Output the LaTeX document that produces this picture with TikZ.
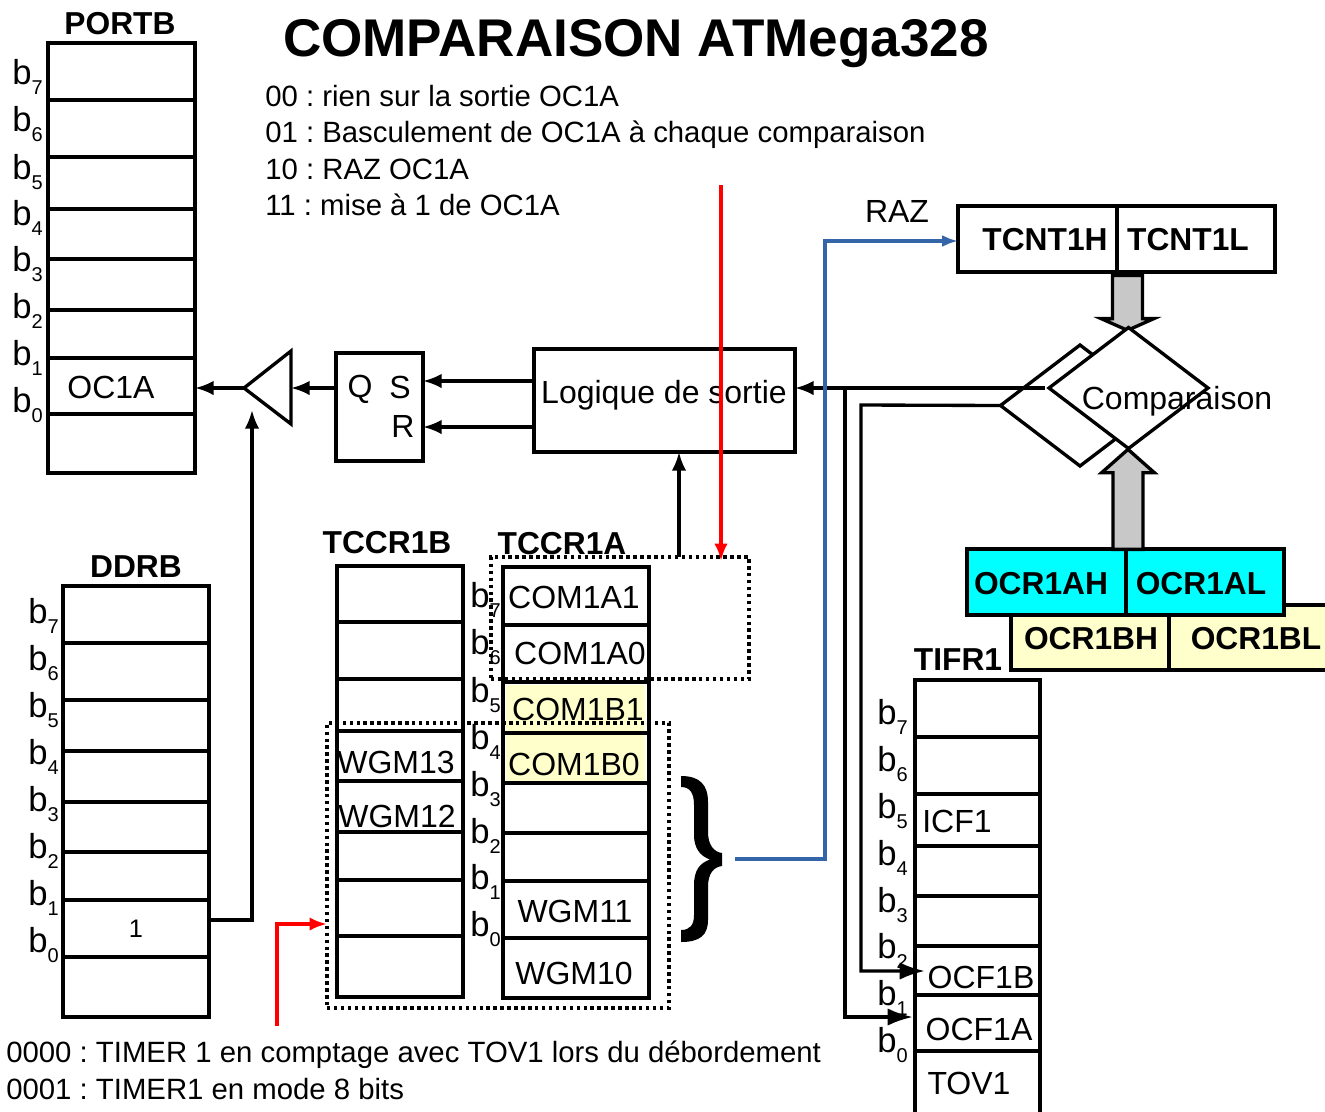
\documentclass[tikz,border=0pt]{standalone}
\usepackage{fontspec}
\setmainfont{Liberation Sans}
\usetikzlibrary{arrows.meta,positioning,shapes.geometric,shapes.arrows,fit}
\definecolor{Cyan}{HTML}{00FFFF}
\definecolor{Pale}{HTML}{FFFFCC}
\definecolor{Link}{HTML}{3465A8}
\definecolor{Bus}{HTML}{C8C8C8}
\newcommand{\bitname}[1]{b\raisebox{-0.3em}{\fontsize{15}{15}\selectfont #1}}
\frenchspacing

\begin{document}
\begin{tikzpicture}[
    x=0.75pt,y=-0.75pt,
    reg/.style={draw,line width=2.5pt,inner sep=0pt,outer sep=0pt,fit={#1}},
    rowline/.style={line width=2.5pt},
    txt/.style={font=\fontsize{24}{27}\selectfont,inner sep=0pt},
    msg/.style={font=\fontsize{22}{27}\selectfont,inner sep=0pt,anchor=base west},
    regtitle/.style={font=\fontsize{23.8}{27}\bfseries\selectfont,inner sep=0pt},
    bit/.style={font=\fontsize{26}{27}\selectfont,inner sep=0pt,anchor=west},
    spot/.style={draw=black,line width=2.6pt,dash pattern=on 2.6pt off 2.6pt,inner sep=0pt,outer sep=0pt,fit={#1}},
    arr/.style={-{Latex[length=14pt,width=11pt]},line width=2.5pt},
    arrlong/.style={-{Latex[length=19pt,width=13pt]},line width=2.5pt},
    arrred/.style={-{Latex[length=13pt,width=10pt]},line width=2.8pt,red},
    arrblue/.style={-{Latex[length=12pt,width=9pt]},line width=2.6pt,Link},
    test/.style={diamond,draw,fill=white,line width=2.5pt,inner sep=0pt,outer sep=0pt,minimum width=119.25pt,minimum height=90.75pt},
    bus/.style={single arrow,draw,fill=Bus,line width=2.5pt,inner ysep=10pt,inner xsep=0pt,outer sep=0pt,single arrow head extend=8.5pt,rotate=#1}
  ]
    \useasboundingbox (0,0) rectangle (1325,1111);

    \node[font=\fontsize{39.8}{44}\bfseries\selectfont,inner sep=0pt] (title) at (636,44) {COMPARAISON ATMega328};
    \node[msg] (ma) at (265,106) {00 : rien sur la sortie OC1A};
    \node[msg] (mb) at (265,142) {01 : Basculement de OC1A à chaque comparaison};
    \node[msg] (mc) at (265,179) {10 : RAZ OC1A};
    \node[msg] (md) at (265,215) {11 : mise à 1 de OC1A};
    \node[msg] (wa) at (6,1062) {0000 : TIMER 1 en comptage avec TOV1 lors du débordement};
    \node[msg] (wb) at (6,1099) {0001 : TIMER1 en mode 8 bits};

    \node[reg={(48,43) (195,473)}] (portb) {};
    \node[regtitle] (portbname) at (120,24) {PORTB};
    \foreach \y in {100,157,209,259,310,358,414}
      \draw[rowline] (portb.west |- 0,\y) -- (portb.east |- 0,\y);
    \foreach \i/\y in {7/77,6/124,5/172,4/218,3/264,2/311,1/358,0/405}
      \node[bit] (pb\i) at (12,\y) {\bitname{\i}};
    \node[txt] (ocpin) at (111,387) {OC1A};

    \node[reg={(63,586) (209,1017)}] (ddrb) {};
    \node[regtitle] (ddrbname) at (136,567) {DDRB};
    \foreach \y in {643,700,751,802,852,900,957}
      \draw[rowline] (ddrb.west |- 0,\y) -- (ddrb.east |- 0,\y);
    \foreach \i/\y in {7/616,6/663,5/710,4/757,3/804,2/851,1/898,0/945}
      \node[bit] (db\i) at (28,\y) {\bitname{\i}};
    \node[font=\fontsize{19}{21}\selectfont,inner sep=0pt] (ddone) at (136,929) {1};

    \fill[Pale] (506,685) rectangle (645,732);
    \fill[Pale] (506,735) rectangle (645,782);
    \node[reg={(337,566) (463,997)}] (tccrb) {};
    \node[regtitle] (tccrbname) at (387,543) {TCCR1B};
    \foreach \y in {622,679,731,781,832,880,936}
      \draw[rowline] (tccrb.west |- 0,\y) -- (tccrb.east |- 0,\y);
    \node[txt] (wgmc) at (396,762) {WGM13};
    \node[txt] (wgmb) at (397,816) {WGM12};

    \node[reg={(503,567) (649,998)}] (tccra) {};
    \node[regtitle] (tccraname) at (562,544) {TCCR1A};
    \foreach \y in {625,682,733,783,833,881,938}
      \draw[rowline] (tccra.west |- 0,\y) -- (tccra.east |- 0,\y);
    \foreach \i/\y in {7/600,6/647,5/695,4/742,3/789,2/836,1/882,0/929}
      \node[bit] (ab\i) at (470,\y) {\bitname{\i}};
    \node[txt] (coma) at (574,597) {COM1A1};
    \node[txt] (comb) at (580,653) {COM1A0};
    \node[txt] (comc) at (578,709) {COM1B1};
    \node[txt] (comd) at (574,764) {COM1B0};
    \node[txt] (wgmab) at (575,911) {WGM11};
    \node[txt] (wgmaa) at (574,973) {WGM10};

    \node[spot={(491,557) (749,679)}] (spota) {};
    \node[spot={(327,723) (669,1008)}] (spotb) {};

    \node[reg={(915,680) (1040,1118)}] (tifr) {};
    \node[regtitle] (tifrname) at (958,660) {TIFR1};
    \foreach \y in {737,794,846,896,946,995,1051}
      \draw[rowline] (tifr.west |- 0,\y) -- (tifr.east |- 0,\y);
    \foreach \i/\y in {7/717,6/764,5/811,4/858,3/905,2/951,1/998,0/1045}
      \node[bit] (tb\i) at (877,\y) {\bitname{\i}};
    \node[txt] (icf) at (957,821) {ICF1};
    \node[txt] (ocfb) at (981,977) {OCF1B};
    \node[txt] (ocfa) at (979,1029) {OCF1A};
    \node[txt] (tov) at (969,1083) {TOV1};

    \node[reg={(534,349) (795,452)}] (logic) {};
    \node[txt] (logictxt) at (664,395) {Logique de sortie};
    \node[reg={(336,353) (423,461)}] (rs) {};
    \node[txt] (rsq) at (360,389) {Q};
    \node[txt] (rss) at (400,387) {S};
    \node[txt] (rsr) at (403,426) {R};
    \draw[rowline,miter limit=10] (244,388) coordinate (bufout) -- (291,351) -- (291,424) -- cycle;
    \coordinate (bufin) at (291,388);
    \coordinate (bufen) at (252,410);

    \node[reg={(958,206) (1275,272)}] (tcnt) {};
    \draw[rowline] (1117,206) -- (1117,272);
    \node[regtitle] (tcnth) at (1045,240) {TCNT1H};
    \node[regtitle] (tcntl) at (1188,240) {TCNT1L};
    \node[txt] (raz) at (897,211) {RAZ};

    \node[reg={(1011,605) (1330,670)},fill=Pale] (ocrb) {};
    \draw[rowline] (1169,605) -- (1169,670);
    \node[regtitle] (ocrbh) at (1091,639) {OCR1BH};
    \node[regtitle] (ocrbl) at (1256,639) {OCR1BL};
    \node[reg={(967,549) (1284,615)},fill=Cyan] (ocra) {};
    \draw[rowline] (1126,549) -- (1126,615);
    \node[regtitle] (ocrah) at (1041,584) {OCR1AH};
    \node[regtitle] (ocral) at (1201,584) {OCR1AL};

    \node[test] (cmpback) at (1080,405.5) {};
    \node[bus=-90,minimum height=41.25pt,single arrow tip angle=132] (busa) at (1127.5,299.5) {};
    \node[bus=90,minimum height=75pt,single arrow tip angle=97] (busb) at (1128,506) {};
    \node[test] (cmp) at (1128.5,388) {};
    \node[txt] (cmptxt) at (1177,401) {Comparaison};

    \coordinate (cmpout) at (1045,388);
    \coordinate (fork) at (845,388);
    \coordinate (ocfbin) at (925,971);
    \coordinate (ocfain) at (913,1017);
    \coordinate (bracetip) at (735,859);
    \coordinate (tcntin) at (958,241);

    \draw[arr] (cmpout) -- (logic.east |- cmpout);
    \draw[arrlong] (fork) |- (ocfain);
    \draw[arrlong] (cmpback.west) -- (861,405) |- (ocfbin);
    \draw[arr] (logic.west |- 0,381) -- (rs.east |- 0,381);
    \draw[arr] (logic.west |- 0,427) -- (rs.east |- 0,427);
    \draw[arr] (rs.west |- bufin) -- (bufin);
    \draw[arr] (bufout) -- (portb.east |- bufout);
    \draw[arr] (ddrb.east |- 0,920) -| (bufen);
    \draw[arr] (spota.north -| 679,0) -- (logic.south -| 679,0);
    \draw[arrred] (721,185) -- (721,561);
    \draw[arrred] (277,1026) |- (spotb.west |- 0,924);
    \draw[arrblue] (bracetip) -- (825,859) |- (tcntin);
    \fill (681,776) .. controls (700,776) and (708,785) .. (708,802) -- (708,832)
      .. controls (708,845) and (714,852) .. (722,853) -- (722,866)
      .. controls (714,867) and (708,873) .. (708,887) -- (708,920)
      .. controls (708,935) and (700,942) .. (681,942) -- (681,930)
      .. controls (690,930) and (694,925) .. (694,915) -- (694,885)
      .. controls (694,870) and (700,863) .. (710,859.5)
      .. controls (700,856) and (694,848) .. (694,835) -- (694,805)
      .. controls (694,793) and (690,787) .. (681,787) -- cycle;
  \end{tikzpicture}
\end{document}
